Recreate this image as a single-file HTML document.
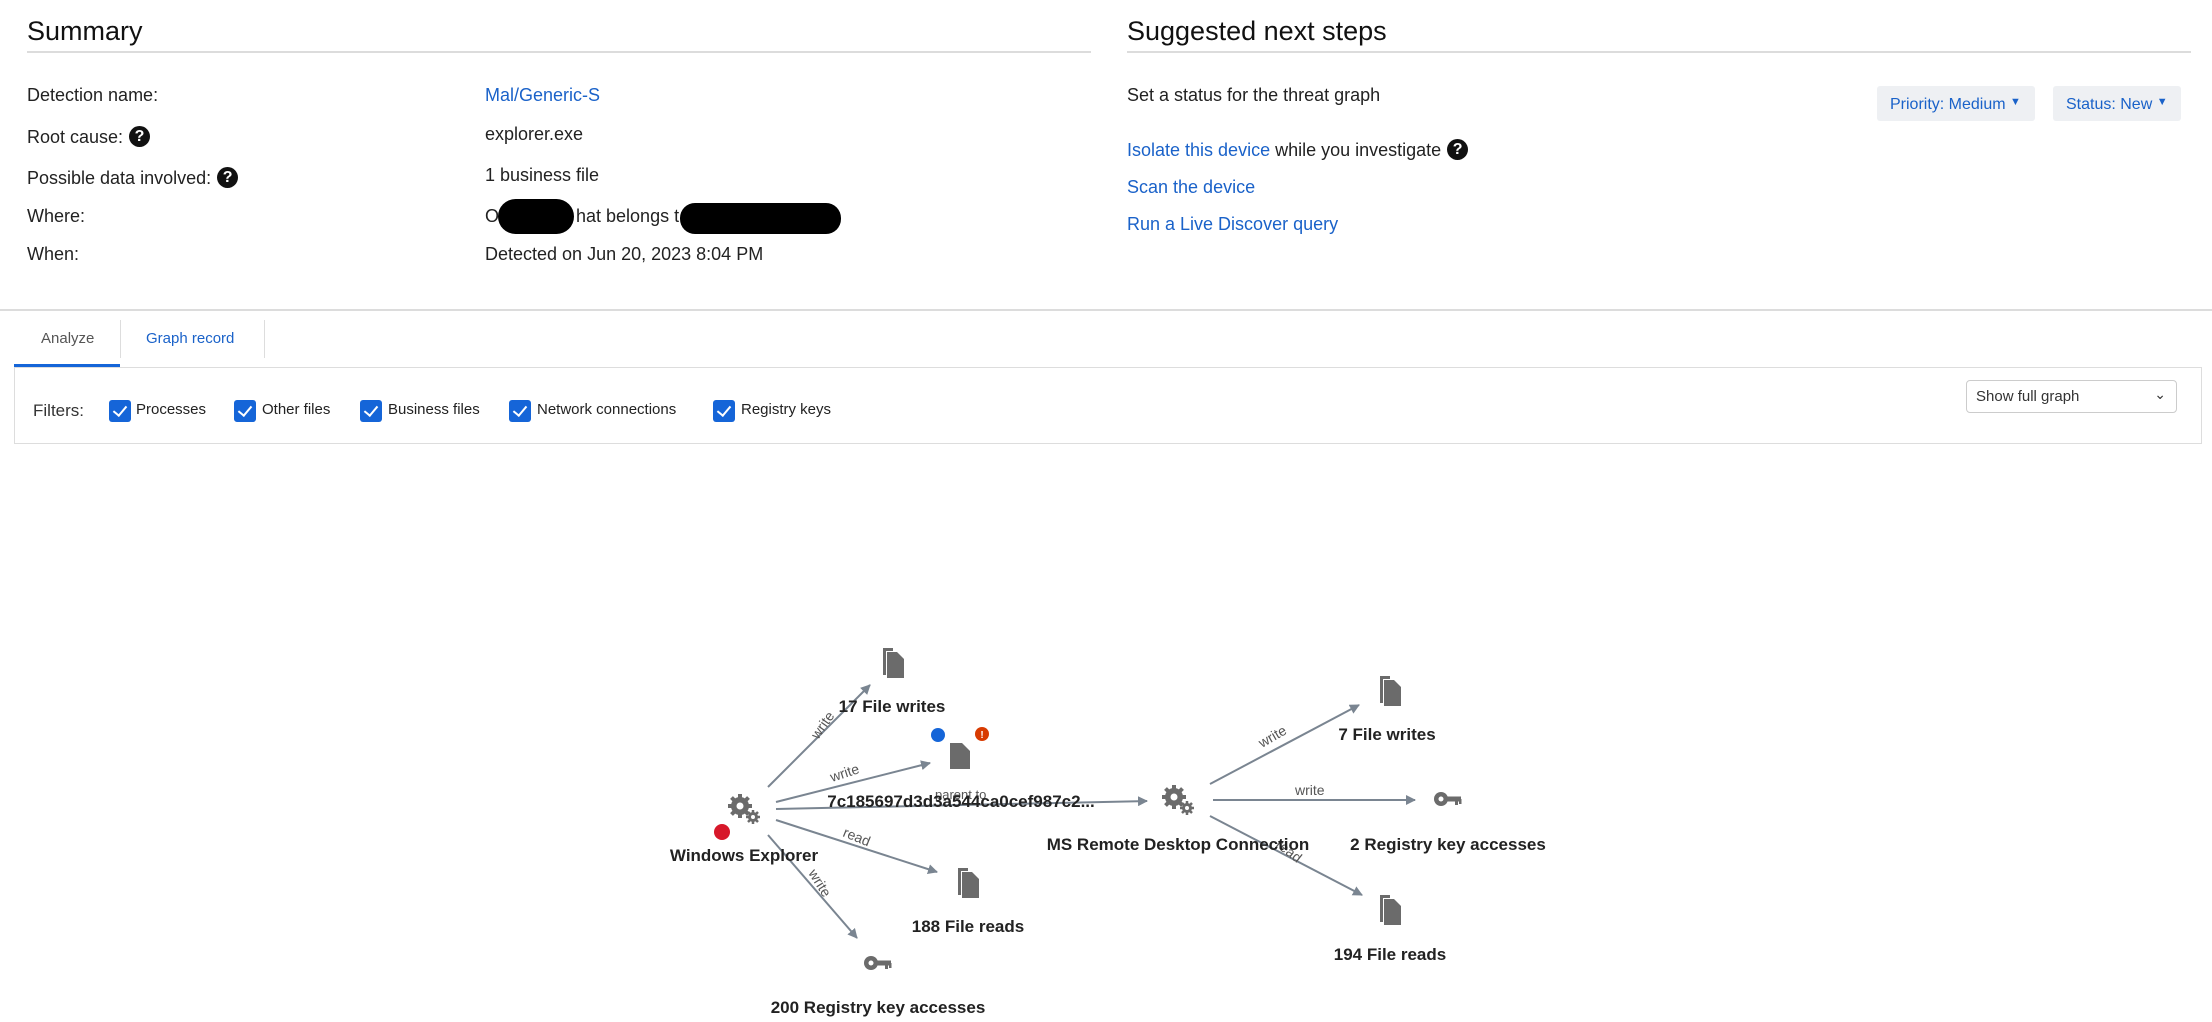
<!DOCTYPE html>
<html><head><meta charset="utf-8"><style>
*{margin:0;padding:0;box-sizing:border-box}
body{width:2212px;height:1022px;background:#fff;font-family:"Liberation Sans",sans-serif;color:#222;position:relative;overflow:hidden}
.a{position:absolute;white-space:nowrap}
.h{font-size:27px;color:#111}
.t{font-size:18px;color:#222}
.l{color:#1a62c9}
.q{display:inline-block;width:21px;height:21px;border-radius:50%;background:#111;color:#fff;font-size:16px;font-weight:bold;text-align:center;line-height:21px;vertical-align:2px;margin-left:6px}
.line{position:absolute;height:2px;background:#dcdcdc}
.btn{position:absolute;background:#eef0f3;border-radius:3px;color:#1a62c9;font-size:16px;padding-left:13px;line-height:33px}
.cb{position:absolute;width:22px;height:22px;background:#1565d8;border-radius:3px;top:400px}
.cb:after{content:"";position:absolute;left:7px;top:3px;width:6px;height:11px;border:solid #fff;border-width:0 2.5px 2.5px 0;transform:rotate(40deg)}
.fl{font-size:15px;color:#222;top:401px}
</style></head><body>
<div class="a h" style="left:27px;top:16px">Summary</div>
<div class="line" style="left:27px;top:51px;width:1064px"></div>
<div class="a h" style="left:1127px;top:16px">Suggested next steps</div>
<div class="line" style="left:1127px;top:51px;width:1064px"></div>

<div class="a t" style="left:27px;top:85px">Detection name:</div>
<div class="a t" style="left:27px;top:126px">Root cause:<span class="q">?</span></div>
<div class="a t" style="left:27px;top:167px">Possible data involved:<span class="q">?</span></div>
<div class="a t" style="left:27px;top:206px">Where:</div>
<div class="a t" style="left:27px;top:244px">When:</div>
<div class="a t l" style="left:485px;top:85px">Mal/Generic-S</div>
<div class="a t" style="left:485px;top:124px">explorer.exe</div>
<div class="a t" style="left:485px;top:165px">1 business file</div>
<div class="a t" style="left:485px;top:206px">O</div>
<div class="a t" style="left:576px;top:206px">hat belongs t</div>
<div class="a" style="left:498px;top:199px;width:76px;height:35px;background:#000;border-radius:18px"></div>
<div class="a" style="left:680px;top:203px;width:161px;height:31px;background:#000;border-radius:15px"></div>
<div class="a t" style="left:485px;top:244px">Detected on Jun 20, 2023 8:04 PM</div>

<div class="a t" style="left:1127px;top:85px">Set a status for the threat graph</div>
<div class="btn" style="left:1877px;top:86px;width:158px">Priority: Medium <span style="font-size:11px;vertical-align:4px">▼</span></div>
<div class="btn" style="left:2053px;top:86px;width:128px">Status: New <span style="font-size:11px;vertical-align:4px">▼</span></div>
<div class="a t" style="left:1127px;top:139px"><span class="l">Isolate this device</span> while you investigate<span class="q">?</span></div>
<div class="a t l" style="left:1127px;top:177px">Scan the device</div>
<div class="a t l" style="left:1127px;top:214px">Run a Live Discover query</div>

<div class="line" style="left:0;top:309px;width:2212px"></div>
<div class="a" style="left:120px;top:320px;width:1px;height:38px;background:#ddd"></div>
<div class="a" style="left:264px;top:320px;width:1px;height:38px;background:#ddd"></div>
<div class="a" style="left:41px;top:330px;font-size:15px;color:#555">Analyze</div>
<div class="a l" style="left:146px;top:330px;font-size:15px">Graph record</div>
<div class="a" style="left:14px;top:364px;width:106px;height:4px;background:#1565d8"></div>
<div class="a" style="left:14px;top:367px;width:2188px;height:77px;border:1px solid #ddd"></div>
<div class="a" style="left:33px;top:401px;font-size:17px;color:#333">Filters:</div>
<div class="cb" style="left:109px"></div><div class="a fl" style="left:136px">Processes</div>
<div class="cb" style="left:234px"></div><div class="a fl" style="left:262px">Other files</div>
<div class="cb" style="left:360px"></div><div class="a fl" style="left:388px">Business files</div>
<div class="cb" style="left:509px"></div><div class="a fl" style="left:537px">Network connections</div>
<div class="cb" style="left:713px"></div><div class="a fl" style="left:741px">Registry keys</div>
<div class="a" style="left:1966px;top:380px;width:211px;height:33px;border:1px solid #ccc;border-radius:4px;font-size:15px;color:#333;padding:7px 9px">Show full graph<span style="position:absolute;right:10px;top:5px;font-size:14px">&#8964;</span></div>

<svg class="a" style="left:0;top:0" width="2212" height="1022" font-family="Liberation Sans, sans-serif">
<defs>
<marker id="ar" markerWidth="10" markerHeight="10" refX="9" refY="5" orient="auto" markerUnits="userSpaceOnUse"><path d="M0,0 L10,5 L0,10 z" fill="#7a8591"/></marker>
<g id="gear"><circle r="9" fill="#6b6b6b"/><circle r="3.5" fill="#fff"/><g stroke="#6b6b6b" stroke-width="4"><path d="M0,-12V12M-12,0H12M-8.5,-8.5L8.5,8.5M8.5,-8.5L-8.5,8.5"/></g><circle r="3.5" fill="#fff"/>
<g transform="translate(13,11)"><circle r="5" fill="#6b6b6b"/><g stroke="#6b6b6b" stroke-width="2.5"><path d="M0,-7V7M-7,0H7M-5,-5L5,5M5,-5L-5,5"/></g><circle r="2" fill="#fff"/></g></g>
<g id="files"><path d="M-10,-14h10v3h-7v24h-3z" fill="#6b6b6b"/><path d="M-6,-10h10l7,7v19h-17z" fill="#6b6b6b"/></g>
<g id="file"><path d="M-10,-13h12l8,8v18h-20z" fill="#6b6b6b"/></g>
<g id="key"><circle cx="-7" cy="0" r="7" fill="#6b6b6b"/><circle cx="-7" cy="0" r="2.5" fill="#fff"/><rect x="-1" y="-2.5" width="14" height="5" fill="#6b6b6b"/><rect x="7" y="0" width="3" height="6" fill="#6b6b6b"/><rect x="11" y="0" width="2.5" height="5" fill="#6b6b6b"/></g>
</defs>
<g stroke="#7a8591" stroke-width="2" fill="none" marker-end="url(#ar)">
<line x1="768" y1="787" x2="870" y2="685"/>
<line x1="776" y1="802" x2="930" y2="763"/>
<line x1="776" y1="809" x2="1147" y2="801"/>
<line x1="776" y1="820" x2="937" y2="872"/>
<line x1="768" y1="835" x2="857" y2="938"/>
<line x1="1210" y1="784" x2="1359" y2="705"/>
<line x1="1213" y1="800" x2="1415" y2="800"/>
<line x1="1210" y1="816" x2="1362" y2="895"/>
</g>
<g font-size="14" fill="#555">
<text transform="translate(818,740) rotate(-55)">write</text>
<text transform="translate(832,782) rotate(-18)">write</text>
<text x="935" y="799" font-size="13">parent to</text>
<text transform="translate(842,836) rotate(22)">read</text>
<text transform="translate(808,873) rotate(58)">write</text>
<text transform="translate(1262,748) rotate(-30)">write</text>
<text x="1295" y="795">write</text>
<text transform="translate(1275,846) rotate(38)">read</text>
</g>
<use href="#gear" x="740" y="806"/>
<circle cx="722" cy="832" r="8" fill="#d7182a"/>
<use href="#gear" x="1174" y="797"/>
<use href="#files" x="893" y="662"/>
<use href="#file" x="960" y="756"/>
<circle cx="938" cy="735" r="7" fill="#1565d8"/>
<circle cx="982" cy="734" r="7" fill="#d83b01"/><text x="982" y="738" font-size="10" font-weight="bold" fill="#fff" text-anchor="middle">!</text>
<use href="#files" x="968" y="882"/>
<use href="#key" x="878" y="963"/>
<use href="#files" x="1390" y="690"/>
<use href="#key" x="1448" y="799"/>
<use href="#files" x="1390" y="909"/>
<g font-size="17" font-weight="bold" fill="#222" text-anchor="middle">
<text x="744" y="861">Windows Explorer</text>
<text x="892" y="712">17 File writes</text>
<text x="961" y="807">7c185697d3d3a544ca0cef987c2...</text>
<text x="1178" y="850">MS Remote Desktop Connection</text>
<text x="1387" y="740">7 File writes</text>
<text x="1448" y="850">2 Registry key accesses</text>
<text x="968" y="932">188 File reads</text>
<text x="1390" y="960">194 File reads</text>
<text x="878" y="1013">200 Registry key accesses</text>
</g>
</svg>
</body></html>
